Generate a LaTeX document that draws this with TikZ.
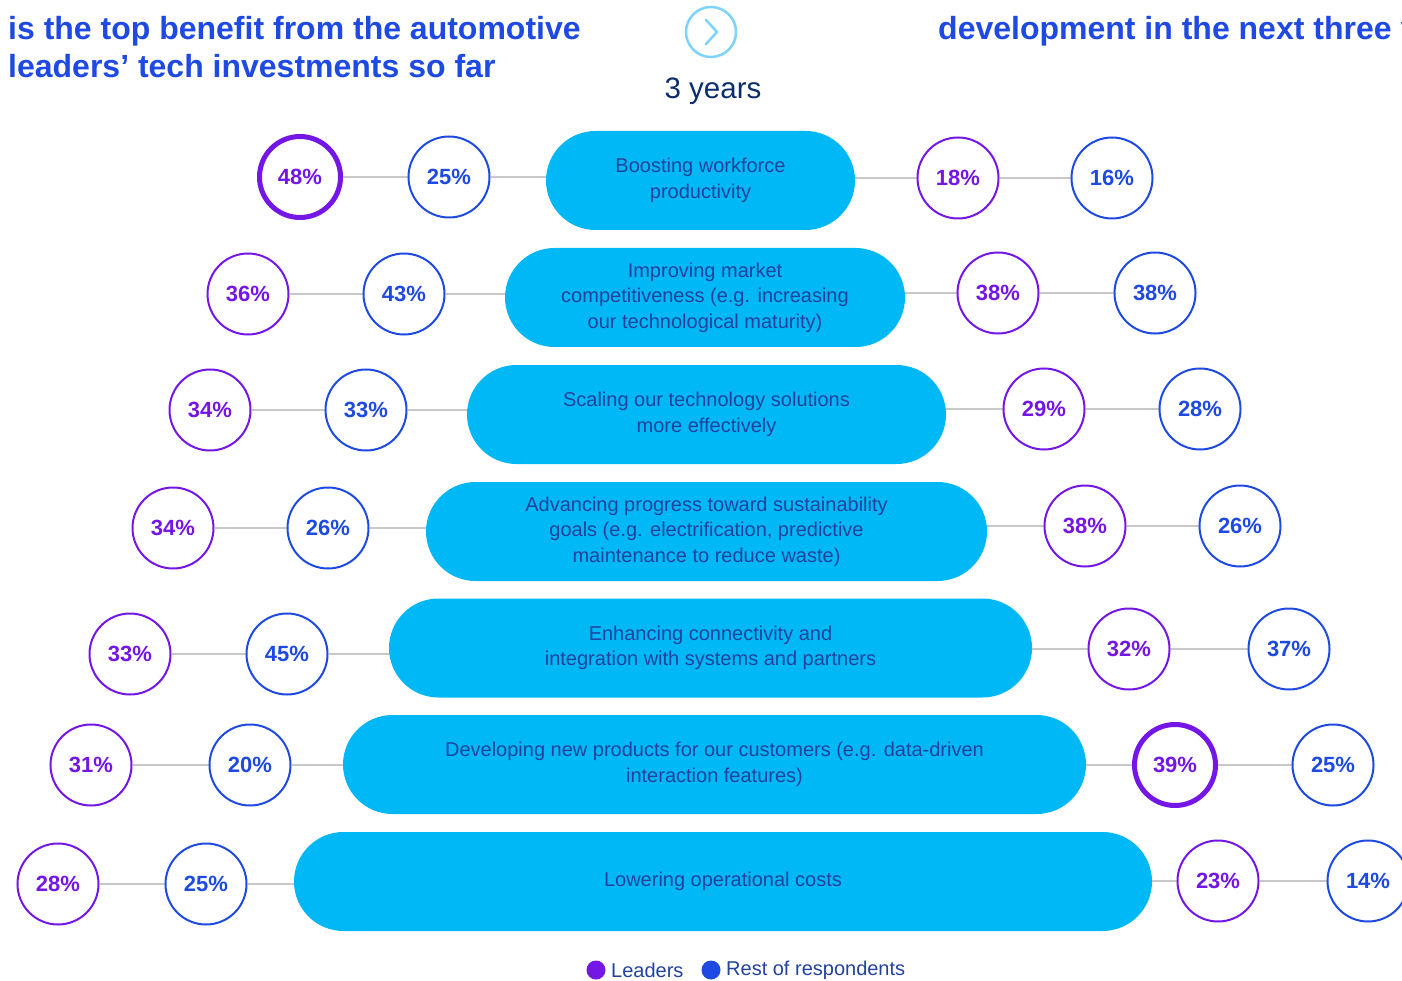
\documentclass[tikz,border=0pt]{standalone}
\usepackage{fontspec}
\setmainfont{Liberation Sans}
\newfontfamily\titlefont{Liberation Sans}
\usetikzlibrary{backgrounds}
\definecolor{lead}{HTML}{7316E6}
\definecolor{rest}{HTML}{1E49E2}
\definecolor{pillc}{HTML}{00B8F5}
\definecolor{navy}{HTML}{22429E}
\definecolor{darknavy}{HTML}{0C2D6B}
\definecolor{chev}{HTML}{7DD3FC}
\definecolor{conngray}{HTML}{C8C8C8}
\begin{document}
\begin{tikzpicture}[x=1pt,y=-1pt,
 pct/.style={circle, draw, line width=2pt, minimum size=81pt, inner sep=0pt, font=\fontsize{22}{26}\selectfont\bfseries},
 leadc/.style={pct, draw=lead, text=lead},
 restc/.style={pct, draw=rest, text=rest},
 topval/.style={line width=5pt},
 pill/.style={fill=pillc, rounded corners=49.5pt, minimum height=99pt, inner sep=0pt, text=navy, align=center, font=\fontsize{20}{25.5}\selectfont},
 connline/.style={draw=conngray, line width=1.8pt},
 titletext/.style={anchor=base west, inner sep=0pt, text=rest, font=\titlefont\bfseries\fontsize{32}{38}\selectfont},
]
\useasboundingbox (0,0) rectangle (1402,981);
\clip (0,0) rectangle (1402,981);

% titles
\node[titletext] (t1) at (8,40) {is the top benefit from the automotive};
\node[titletext] (t2) at (8,78) {leaders’ tech investments so far};
\node[titletext] (t3) at (938,40) {development in the next three years};

% chevron
\node[circle, draw=chev, line width=2.5pt, minimum size=50pt, inner sep=0pt] (chevc) at (711,32) {};
\draw[chev, line width=2.5pt, line cap=round, line join=round] (706,20) -- (717,32) -- (706,44);
\node[text=darknavy, font=\fontsize{29.5}{33}\selectfont] (yrs) at (713,91) {3 years};

% row 1
\node[pill, minimum width=309pt] (p1) at (700.5,180.5) {Boosting workforce\\productivity};
\node[leadc, topval] (l1a) at (300,177) {48\%};
\node[restc] (l1b) at (449,177) {25\%};
\node[leadc] (r1a) at (958,178) {18\%};
\node[restc] (r1b) at (1112,178) {16\%};
% row 2
\node[pill, minimum width=400pt] (p2) at (705,297.5) {Improving market\\competitiveness (e.g. increasing\\our technological maturity)};
\node[leadc] (l2a) at (248,294) {36\%};
\node[restc] (l2b) at (404,294) {43\%};
\node[leadc] (r2a) at (998,293) {38\%};
\node[restc] (r2b) at (1155,293) {38\%};
% row 3
\node[pill, minimum width=479pt] (p3) at (706.5,414.5) {Scaling our technology solutions\\more effectively};
\node[leadc] (l3a) at (210,410) {34\%};
\node[restc] (l3b) at (366,410) {33\%};
\node[leadc] (r3a) at (1044,409) {29\%};
\node[restc] (r3b) at (1200,409) {28\%};
% row 4
\node[pill, minimum width=561pt] (p4) at (706.5,531.5) {Advancing progress toward sustainability\\goals (e.g. electrification, predictive\\maintenance to reduce waste)};
\node[leadc] (l4a) at (173,528) {34\%};
\node[restc] (l4b) at (328,528) {26\%};
\node[leadc] (r4a) at (1085,526) {38\%};
\node[restc] (r4b) at (1240,526) {26\%};
% row 5
\node[pill, minimum width=643pt] (p5) at (710.5,648) {Enhancing connectivity and\\integration with systems and partners};
\node[leadc] (l5a) at (130,654) {33\%};
\node[restc] (l5b) at (287,654) {45\%};
\node[leadc] (r5a) at (1129,649) {32\%};
\node[restc] (r5b) at (1289,649) {37\%};
% row 6
\node[pill, minimum width=743pt] (p6) at (714.5,764.5) {Developing new products for our customers (e.g. data-driven\\interaction features)};
\node[leadc] (l6a) at (91,765) {31\%};
\node[restc] (l6b) at (250,765) {20\%};
\node[leadc, topval] (r6a) at (1175,765) {39\%};
\node[restc] (r6b) at (1333,765) {25\%};
% row 7
\node[pill, minimum width=858pt] (p7) at (723,881.5) {Lowering operational costs};
\node[leadc] (l7a) at (58,884) {28\%};
\node[restc] (l7b) at (206,884) {25\%};
\node[leadc] (r7a) at (1218,881) {23\%};
\node[restc] (r7b) at (1368,881) {14\%};

% connectors
\begin{scope}[on background layer]
\foreach \i in {1,...,7}{
  \draw[connline] (l\i a) -- (l\i b) -- (l\i b -| p\i);
  \draw[connline] (r\i a -| p\i) -- (r\i a) -- (r\i b);
}
\end{scope}

% legend
\node[circle, fill=lead, minimum size=19pt, inner sep=0pt] (dl) at (596,970) {};
\node[anchor=west, inner sep=0pt, text=navy, font=\fontsize{20}{22}\selectfont] (tl) at (611,970) {Leaders};
\node[circle, fill=rest, minimum size=19pt, inner sep=0pt] (dr) at (711,970) {};
\node[anchor=west, inner sep=0pt, text=navy, font=\fontsize{20}{22}\selectfont] (tr) at (726,970) {Rest of respondents};
\end{tikzpicture}
\end{document}
